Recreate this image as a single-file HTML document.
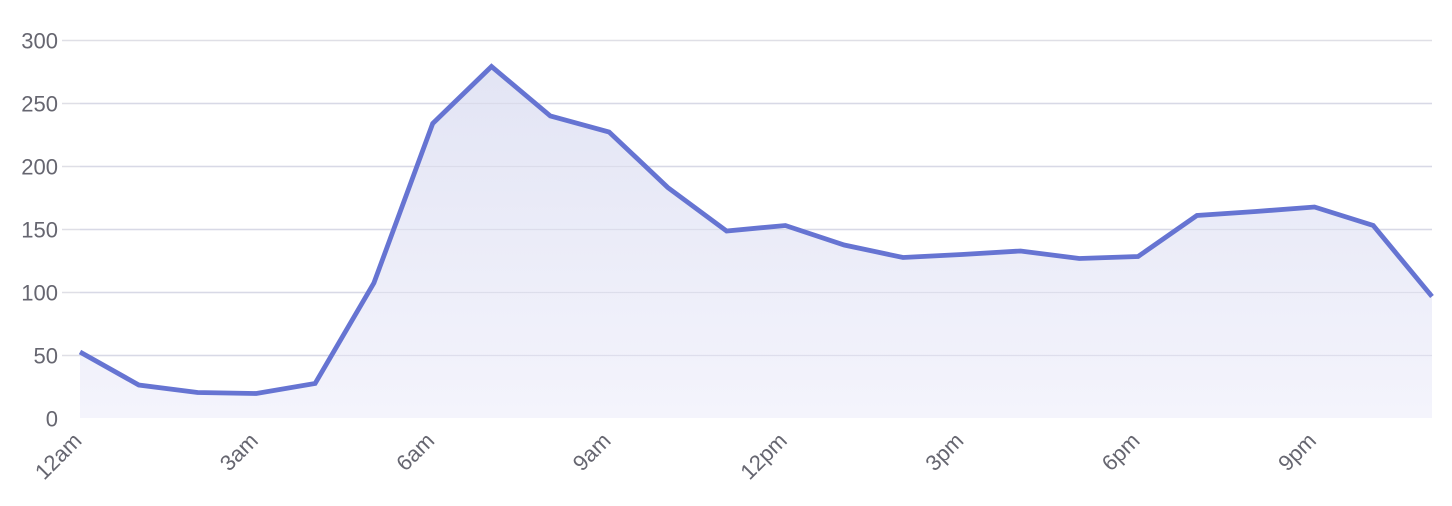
<!DOCTYPE html>
<html>
<head>
<meta charset="utf-8">
<style>
  html, body { margin: 0; padding: 0; background: #ffffff; }
  body { width: 1452px; height: 506px; overflow: hidden; }
  svg { display: block; }
  text { font-family: "Liberation Sans", "Helvetica Neue", Arial, sans-serif; fill: #666670; }
</style>
</head>
<body>
<svg width="1452" height="506" viewBox="0 0 1452 506" xmlns="http://www.w3.org/2000/svg">
  <defs>
    <linearGradient id="fillg" gradientUnits="userSpaceOnUse" x1="0" y1="60" x2="0" y2="418">
      <stop offset="0" stop-color="#e2e4f4"/>
      <stop offset="1" stop-color="#f4f4fc"/>
    </linearGradient>
  </defs>

  <!-- gridlines (behind) -->
  <g stroke="#dfdfe6" stroke-width="1.6">
    <line x1="62" y1="40.5" x2="1432" y2="40.5"/>
    <line x1="62" y1="103.5" x2="1432" y2="103.5"/>
    <line x1="62" y1="166.5" x2="1432" y2="166.5"/>
    <line x1="62" y1="229.5" x2="1432" y2="229.5"/>
    <line x1="62" y1="292.5" x2="1432" y2="292.5"/>
    <line x1="62" y1="355.5" x2="1432" y2="355.5"/>
  </g>

  <!-- area fill -->
  <polygon fill="url(#fillg)" points="80,418 80,352 138.8,385 197.6,392.5 256.3,393.5 315.1,383.5 373.9,283 432.7,123.5 491.5,66.5 550.3,116 609.1,132 667.8,187.5 726.6,231 785.4,225.5 844.2,245 903,257.5 961.8,254.5 1020.5,251 1079.3,258.5 1138.1,256.5 1196.9,215.5 1255.7,211.5 1314.5,207 1373.2,225.5 1432,296.5 1432,418"/>

  <!-- gridlines over fill (subtle) -->
  <g stroke="#d6d7e6" stroke-width="1.2" opacity="0.7">
    <line x1="80" y1="103.5" x2="1432" y2="103.5"/>
    <line x1="80" y1="166.5" x2="1432" y2="166.5"/>
    <line x1="80" y1="229.5" x2="1432" y2="229.5"/>
    <line x1="80" y1="292.5" x2="1432" y2="292.5"/>
    <line x1="80" y1="355.5" x2="1432" y2="355.5"/>
  </g>

  <!-- data line -->
  <polyline fill="none" stroke="#6674d2" stroke-width="4.8" stroke-linejoin="miter" stroke-miterlimit="4" points="80,352 138.8,385 197.6,392.5 256.3,393.5 315.1,383.5 373.9,283 432.7,123.5 491.5,66.5 550.3,116 609.1,132 667.8,187.5 726.6,231 785.4,225.5 844.2,245 903,257.5 961.8,254.5 1020.5,251 1079.3,258.5 1138.1,256.5 1196.9,215.5 1255.7,211.5 1314.5,207 1373.2,225.5 1432,296.5"/>

  <!-- y axis labels -->
  <g font-size="22" text-anchor="end">
    <text x="58" y="48.5">300</text>
    <text x="58" y="111.5">250</text>
    <text x="58" y="174.5">200</text>
    <text x="58" y="237.5">150</text>
    <text x="58" y="300.5">100</text>
    <text x="58" y="363.5">50</text>
    <text x="58" y="426.5">0</text>
  </g>

  <!-- x axis labels -->
  <g font-size="22" text-anchor="end">
    <text x="83" y="442" transform="rotate(-45 83 442)">12am</text>
    <text x="259.3" y="442" transform="rotate(-45 259.3 442)">3am</text>
    <text x="435.7" y="442" transform="rotate(-45 435.7 442)">6am</text>
    <text x="612.1" y="442" transform="rotate(-45 612.1 442)">9am</text>
    <text x="788.4" y="442" transform="rotate(-45 788.4 442)">12pm</text>
    <text x="964.8" y="442" transform="rotate(-45 964.8 442)">3pm</text>
    <text x="1141.1" y="442" transform="rotate(-45 1141.1 442)">6pm</text>
    <text x="1317.5" y="442" transform="rotate(-45 1317.5 442)">9pm</text>
  </g>
</svg>
</body>
</html>
